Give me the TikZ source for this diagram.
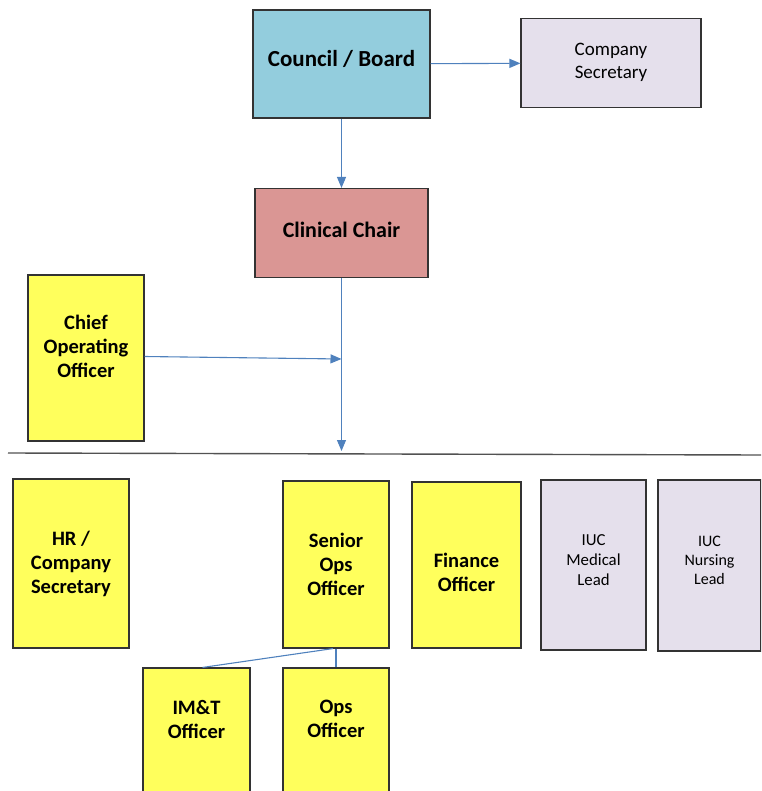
\documentclass[tikz,border=0pt]{standalone}
\usepackage{fontspec}
\setmainfont{Carlito}
\usepackage{tikz}
\usetikzlibrary{arrows.meta,positioning,calc}
\definecolor{BoardBlue}{HTML}{93CDDD}
\definecolor{ChairRose}{HTML}{DA9694}
\definecolor{RoleYellow}{HTML}{FFFF5C}
\definecolor{LeadLilac}{HTML}{E5E0EC}
\definecolor{LinkBlue}{HTML}{4F81BD}
\definecolor{EdgeGrey}{HTML}{333333}

\begin{document}
\begin{tikzpicture}[x=1pt, y=-1pt,
    role/.style={draw=EdgeGrey, line width=1.1pt, inner sep=0pt, align=center,
      font=\fontsize{20.5}{24}\selectfont\bfseries},
    yellowbox/.style={role, fill=RoleYellow},
    lilacbox/.style={role, fill=LeadLilac, font=\fontsize{16.8}{20}\selectfont},
    textup/.style={text depth=#1},
    textdown/.style={text height=#1},
    arrow/.style={-{Triangle[length=11pt,width=9pt]}, line width=1.1pt, color=LinkBlue},
    link/.style={line width=1.1pt, color=LinkBlue}
  ]
    \useasboundingbox (0,0) rectangle (761,791);
    \clip (0,0) rectangle (761,791);
    % top of the chart
    \node[role, fill=BoardBlue, minimum width=177pt, minimum height=108pt, textup=11pt,
      font=\fontsize{23}{26}\selectfont\bfseries] (council) at (341.5,64) {Council / Board};
    \node[lilacbox, minimum width=180pt, minimum height=89pt, textup=4pt,
      font=\fontsize{19}{23}\selectfont] (secretary) at (611,63) {Company\\Secretary};
    \node[role, fill=ChairRose, minimum width=173pt, minimum height=89pt, textup=6pt,
      font=\fontsize{22}{26}\selectfont\bfseries] (chair) at (341.5,233) {Clinical Chair};
    \node[yellowbox, minimum width=116pt, minimum height=166pt, textup=24pt] (coo) at (86,358) {Chief\\Operating\\Officer};
    % divider
    \coordinate (divl) at (8,453);
    \coordinate (divr) at (761,455);
    \draw[EdgeGrey!85, line width=1.4pt] (divl) -- (divr);
    \coordinate (chairend) at (341.5,451);
    \coordinate (cooend) at (341.5,359);
    % staff row
    \node[yellowbox, minimum width=116pt, minimum height=169pt] (hr) at (71,563.5) {HR /\\Company\\Secretary};
    \node[yellowbox, minimum width=106pt, minimum height=167pt] (seniorops) at (336,564.5) {Senior\\Ops\\Officer};
    \node[yellowbox, minimum width=109pt, minimum height=166pt, textdown=54pt] (finance) at (466.5,565) {Finance\\Officer};
    \node[lilacbox, minimum width=105pt, minimum height=170pt, textup=10pt] (medlead) at (593.5,565) {IUC\\Medical\\Lead};
    \node[lilacbox, minimum width=103pt, minimum height=171pt, textup=11pt,
      font=\fontsize{16}{19}\selectfont] (nurselead) at (709.5,565.5) {IUC\\Nursing\\Lead};
    \node[yellowbox, minimum width=107pt, minimum height=160pt, textup=58pt] (imt) at (196.5,748) {IM\&T\\Officer};
    \node[yellowbox, minimum width=106pt, minimum height=160pt, textup=58pt] (ops) at (336,748) {Ops\\Officer};
    % connectors
    \draw[arrow] (council) -- (secretary);
    \draw[arrow] (council) -- (chair);
    \draw[arrow] (chair) -- (chairend);
    \draw[arrow] (coo.east |- 0,356.5) -- (cooend);
    \draw[link] (seniorops.south) -- (ops.north);
    \draw[link] ($(seniorops.south)+(-3,0)$) -- ($(imt.north)+(6,0)$);
  \end{tikzpicture}
\end{document}
